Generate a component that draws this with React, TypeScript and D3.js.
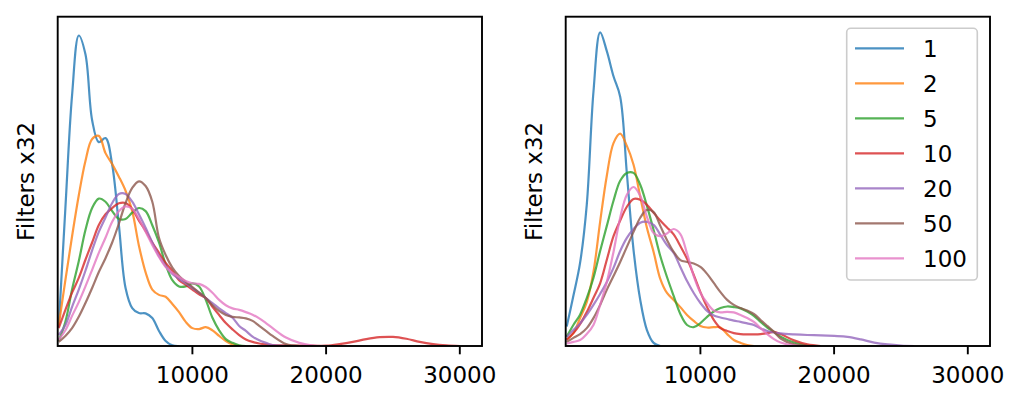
import { useEffect, useRef } from 'react';
import * as d3 from 'd3';

// sampling grid for the density curves
const xGrid = [
  0, 500, 1000, 1500, 2000, 2500, 3000, 3500, 4000, 4500, 5000, 5500, 6000, 6500, 7000, 7500, 8000,
  8500, 9000, 9500, 10000, 10500, 11000, 11500, 12000, 12500, 13000, 13500, 14000, 14500, 15000,
  15500, 16000, 17000, 18000, 19000, 20000, 21000, 22000, 23000, 24000, 25000, 26000, 27000, 28000,
  29000, 30000, 31000,
];

const labels = ['1', '2', '5', '10', '20', '50', '100'];
const colors = ['#1f77b4', '#ff7f0e', '#2ca02c', '#d62728', '#9467bd', '#8c564b', '#e377c2'];
const xTicks = [10000, 20000, 30000];

// left panel
const left1 = [0.06, 0.44, 0.8, 0.99, 0.93, 0.72, 0.65, 0.663, 0.578, 0.386, 0.185, 0.121, 0.105, 0.104, 0.089, 0.048, 0.016, 0.002, 0];
const left2 = [0.065, 0.21, 0.35, 0.48, 0.59, 0.66, 0.67, 0.615, 0.58, 0.54, 0.495, 0.43, 0.32, 0.235, 0.18, 0.163, 0.157, 0.134, 0.108, 0.077, 0.057, 0.054, 0.06, 0.05, 0.032, 0.016, 0.005, 0];
const left5 = [0.016, 0.077, 0.18, 0.27, 0.37, 0.44, 0.47, 0.46, 0.43, 0.405, 0.405, 0.425, 0.44, 0.43, 0.385, 0.33, 0.26, 0.21, 0.19, 0.19, 0.2, 0.19, 0.147, 0.09, 0.05, 0.022, 0.01, 0.002, 0];
const left10 = [0.057, 0.115, 0.17, 0.217, 0.275, 0.33, 0.386, 0.42, 0.44, 0.455, 0.456, 0.437, 0.4, 0.367, 0.33, 0.297, 0.265, 0.24, 0.21, 0.195, 0.18, 0.165, 0.153, 0.125, 0.099, 0.073, 0.053, 0.035, 0.021, 0.013, 0.008, 0.005, 0.003, 0.002, 0.001, 0.001, 0.001, 0.006, 0.013, 0.022, 0.028, 0.029, 0.023, 0.013, 0.006, 0.002, 0];
const left20 = [0.035, 0.067, 0.125, 0.18, 0.24, 0.305, 0.364, 0.41, 0.456, 0.485, 0.485, 0.46, 0.42, 0.377, 0.33, 0.287, 0.255, 0.23, 0.214, 0.2, 0.185, 0.17, 0.153, 0.137, 0.12, 0.105, 0.09, 0.064, 0.048, 0.03, 0.018, 0.01, 0.003, 0];
const left50 = [0.013, 0.032, 0.057, 0.093, 0.137, 0.185, 0.236, 0.28, 0.33, 0.39, 0.456, 0.504, 0.525, 0.51, 0.46, 0.345, 0.29, 0.25, 0.223, 0.204, 0.188, 0.17, 0.153, 0.13, 0.112, 0.099, 0.093, 0.091, 0.088, 0.08, 0.064, 0.048, 0.032, 0.006, 0];
const left100 = [0.02, 0.05, 0.096, 0.14, 0.19, 0.243, 0.297, 0.345, 0.396, 0.43, 0.445, 0.437, 0.405, 0.364, 0.322, 0.284, 0.252, 0.233, 0.22, 0.207, 0.2, 0.198, 0.188, 0.17, 0.147, 0.13, 0.12, 0.115, 0.108, 0.1, 0.088, 0.073, 0.057, 0.027, 0.01, 0.0015, 0];

// right panel
const right1 = [0.062, 0.16, 0.265, 0.45, 0.81, 1.0, 0.94, 0.86, 0.795, 0.55, 0.306, 0.147, 0.051, 0.01, 0];
const right2 = [0.02, 0.041, 0.089, 0.14, 0.236, 0.396, 0.543, 0.647, 0.677, 0.638, 0.578, 0.476, 0.377, 0.3, 0.214, 0.169, 0.147, 0.124, 0.099, 0.08, 0.064, 0.059, 0.06, 0.059, 0.038, 0.019, 0.01, 0.003, 0];
const right5 = [0.03, 0.067, 0.1, 0.153, 0.217, 0.303, 0.383, 0.463, 0.527, 0.552, 0.552, 0.514, 0.447, 0.37, 0.287, 0.22, 0.16, 0.102, 0.067, 0.06, 0.073, 0.093, 0.11, 0.121, 0.126, 0.124, 0.12, 0.11, 0.096, 0.077, 0.059, 0.045, 0.03, 0.011, 0.0015, 0];
const right10 = [0.02, 0.041, 0.07, 0.108, 0.153, 0.2, 0.275, 0.35, 0.4, 0.444, 0.469, 0.466, 0.45, 0.425, 0.4, 0.378, 0.356, 0.319, 0.278, 0.227, 0.172, 0.124, 0.083, 0.057, 0.048, 0.041, 0.038, 0.037, 0.037, 0.038, 0.041, 0.045, 0.038, 0.018, 0.005, 0];
const right20 = [0.029, 0.051, 0.072, 0.099, 0.131, 0.166, 0.204, 0.249, 0.303, 0.345, 0.373, 0.393, 0.396, 0.386, 0.355, 0.322, 0.297, 0.252, 0.207, 0.169, 0.137, 0.112, 0.097, 0.091, 0.086, 0.081, 0.077, 0.072, 0.067, 0.056, 0.048, 0.043, 0.04, 0.037, 0.035, 0.034, 0.032, 0.029, 0.021, 0.011, 0.005, 0.0015, 0];
const right50 = [0.013, 0.026, 0.038, 0.057, 0.089, 0.131, 0.179, 0.223, 0.268, 0.316, 0.364, 0.409, 0.434, 0.427, 0.383, 0.338, 0.3, 0.274, 0.268, 0.263, 0.252, 0.23, 0.201, 0.172, 0.147, 0.131, 0.121, 0.113, 0.102, 0.083, 0.064, 0.045, 0.024, 0.005, 0];
const right100 = [0.008, 0.013, 0.019, 0.038, 0.067, 0.131, 0.204, 0.3, 0.409, 0.482, 0.507, 0.479, 0.412, 0.36, 0.35, 0.359, 0.373, 0.357, 0.295, 0.223, 0.17, 0.137, 0.113, 0.107, 0.109, 0.107, 0.099, 0.089, 0.077, 0.057, 0.038, 0.022, 0.011, 0.001, 0];

const leftSeries = [left1, left2, left5, left10, left20, left50, left100];
const rightSeries = [right1, right2, right5, right10, right20, right50, right100];

const FONT = 'DejaVu Sans, sans-serif';

const App = () => {
  const ref = useRef<SVGSVGElement>(null);

  useEffect(() => {
    const svg = d3.select(ref.current);
    svg.selectAll('*').remove();

    const top = 16.7;
    const bottom = 346;
    const panels = [
      { left: 57.7, right: 482, series: leftSeries, legend: false },
      { left: 565.7, right: 990, series: rightSeries, legend: true },
    ];

    panels.forEach((p, pi) => {
      const x = d3.scaleLinear().domain([-75, 31660]).range([p.left, p.right]);
      const y = d3.scaleLinear().domain([0, 1.05]).range([bottom, top]);
      const g = svg.append('g');

      const clipId = `clip${pi}`;
      g.append('clipPath')
        .attr('id', clipId)
        .append('rect')
        .attr('x', p.left)
        .attr('y', top)
        .attr('width', p.right - p.left)
        .attr('height', bottom - top);

      // smooth line through the sampled densities
      const line = d3
        .line<number>()
        .x((_, i) => x(xGrid[i]))
        .y((d) => y(d))
        .curve(d3.curveCatmullRom.alpha(0.5));

      g.append('g')
        .attr('clip-path', `url(#${clipId})`)
        .selectAll('path')
        .data(p.series)
        .enter()
        .append('path')
        .attr('d', (d) => line(d))
        .attr('fill', 'none')
        .attr('stroke', (_, i) => colors[i])
        .attr('stroke-opacity', 0.8)
        .attr('stroke-width', 2.2)
        .attr('stroke-linejoin', 'round');

      // frame
      g.append('rect')
        .attr('x', p.left)
        .attr('y', top)
        .attr('width', p.right - p.left)
        .attr('height', bottom - top)
        .attr('fill', 'none')
        .attr('stroke', '#000')
        .attr('stroke-width', 1.9);

      // x ticks
      const ticks = g.selectAll('.tick').data(xTicks).enter().append('g');
      ticks
        .append('line')
        .attr('x1', (d) => x(d))
        .attr('x2', (d) => x(d))
        .attr('y1', bottom)
        .attr('y2', bottom + 8.3)
        .attr('stroke', '#000')
        .attr('stroke-width', 1.9);
      ticks
        .append('text')
        .attr('x', (d) => x(d))
        .attr('y', 383)
        .attr('text-anchor', 'middle')
        .attr('font-family', FONT)
        .attr('font-size', 23)
        .text((d) => String(d));

      // y label
      g.append('text')
        .attr('transform', `translate(${p.left - 23.5},${(top + bottom) / 2}) rotate(-90)`)
        .attr('text-anchor', 'middle')
        .attr('font-family', FONT)
        .attr('font-size', 23)
        .text('Filters x32');

      if (p.legend) {
        const lg = svg.append('g');
        lg.append('rect')
          .attr('x', 846.7)
          .attr('y', 28.3)
          .attr('width', 130.6)
          .attr('height', 251.7)
          .attr('rx', 4)
          .attr('fill', '#fff')
          .attr('fill-opacity', 0.8)
          .attr('stroke', '#cccccc')
          .attr('stroke-width', 1.6);
        const rows = lg.selectAll('.row').data(labels).enter().append('g');
        rows
          .append('line')
          .attr('x1', 855)
          .attr('x2', 904)
          .attr('y1', (_, i) => 48.3 + 35 * i)
          .attr('y2', (_, i) => 48.3 + 35 * i)
          .attr('stroke', (_, i) => colors[i])
          .attr('stroke-opacity', 0.8)
          .attr('stroke-width', 2.2);
        rows
          .append('text')
          .attr('x', 923)
          .attr('y', (_, i) => 48.3 + 35 * i + 8.4)
          .attr('font-family', FONT)
          .attr('font-size', 23)
          .text((d) => d);
      }
    });
  }, []);

  return (
    <svg
      ref={ref}
      width={1024}
      height={404}
      style={{ position: 'absolute', left: 0, top: 0, background: '#fff' }}
    />
  );
};

export default App;
